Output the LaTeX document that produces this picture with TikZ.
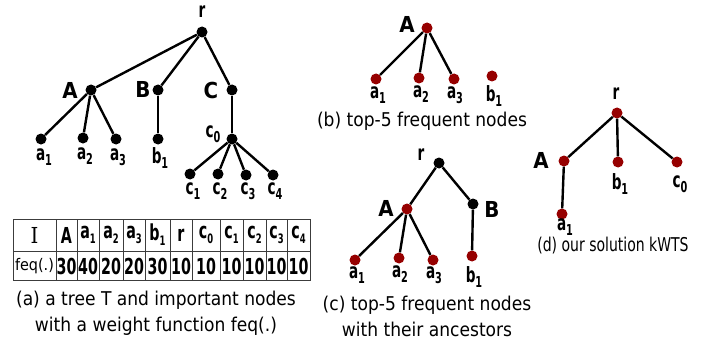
\documentclass[tikz,border=0pt]{standalone}
\usepackage{fontspec}
\usepackage{graphicx}
\setmainfont{DejaVu Sans Condensed}
\newfontfamily\serffont{DejaVu Serif Condensed}
\usepackage{tikz}
\definecolor{darkred}{RGB}{150,0,0}
\definecolor{gridgray}{RGB}{60,60,60}
\newcommand{\nrw}[1]{\scalebox{0.72}[1]{#1}}
\newcommand{\lab}[2]{\nrw{#1\raisebox{-0.4ex}{\fontsize{15}{15}\selectfont #2}}}
\newcommand{\tlab}[2]{#1\raisebox{-0.4ex}{\fontsize{13}{13}\selectfont #2}}

\begin{document}
\begin{tikzpicture}
[x=1pt, y=-1pt,
 dot/.style={circle, minimum size=11pt, inner sep=0pt, fill=black},
 rdot/.style={dot, fill=darkred},
 edge/.style={line width=2.4pt, color=black},
 lbl/.style={inner sep=0pt, font=\bfseries\fontsize{21}{21}\selectfont},
 biglbl/.style={inner sep=0pt, font=\bfseries\fontsize{22}{22}\selectfont},
 cell/.style={inner sep=0pt, font=\bfseries\fontsize{22}{22}\selectfont},
 caption/.style={inner sep=0pt, align=center, font=\fontsize{19}{26}\selectfont}]
\useasboundingbox (0,0) rectangle (710,345);

% (a) tree T
\node (ar) [dot] at (202, 32) {};
\node (aA) [dot] at (91, 90) {};
\node (aB) [dot] at (158, 90) {};
\node (aC) [dot] at (232, 90) {};
\node (aa1) [dot] at (41, 139) {};
\node (aa2) [dot] at (83, 138) {};
\node (aa3) [dot] at (116, 139) {};
\node (ab1) [dot] at (158, 139) {};
\node (ac0) [dot] at (232, 139) {};
\node (ac1) [dot] at (190, 174) {};
\node (ac2) [dot] at (218, 174) {};
\node (ac3) [dot] at (246, 175) {};
\node (ac4) [dot] at (273, 175) {};
\draw [edge] (ar) -- (aA);
\draw [edge] (ar) -- (aB);
\draw [edge] (ar) -- (aC);
\draw [edge] (aA) -- (aa1);
\draw [edge] (aA) -- (aa2);
\draw [edge] (aA) -- (aa3);
\draw [edge] (aB) -- (ab1);
\draw [edge] (aC) -- (ac0);
\draw [edge] (ac0) -- (ac1);
\draw [edge] (ac0) -- (ac2);
\draw [edge] (ac0) -- (ac3);
\draw [edge] (ac0) -- (ac4);
\node (arl) [lbl] at (202, 12) {\nrw{r}};
\node (aAl) [biglbl] at (70, 90) {A};
\node (aBl) [biglbl] at (143, 89) {B};
\node (aCl) [biglbl] at (211, 90) {C};
\node (aa1l) [lbl] at (44, 157) {\lab{a}{1}};
\node (aa2l) [lbl] at (85, 156) {\lab{a}{2}};
\node (aa3l) [lbl] at (118, 157) {\lab{a}{3}};
\node (ab1l) [lbl] at (160, 158) {\lab{b}{1}};
\node (ac0l) [lbl] at (213, 134) {\lab{c}{0}};
\node (ac1l) [lbl] at (193, 191) {\lab{c}{1}};
\node (ac2l) [lbl] at (220, 191) {\lab{c}{2}};
\node (ac3l) [lbl] at (248, 191) {\lab{c}{3}};
\node (ac4l) [lbl] at (275, 191) {\lab{c}{4}};

% table of weights
\draw [line width=1pt, color=gridgray] (13, 219) rectangle (310, 280);
\draw [line width=1pt, color=gridgray] (13, 251) -- (310, 251);
\foreach \x in {56, 77, 99, 123, 145, 170, 192, 220, 243, 266, 287}
  \draw [line width=1pt, color=gridgray] (\x, 219) -- (\x, 280);
\node (tI) [inner sep=0pt, font=\serffont\fontsize{22}{22}\selectfont] at (34.5, 235) {I};
\node (tfeq) [inner sep=0pt, font=\fontsize{16}{16}\selectfont] at (34.5, 266) {feq(.)};
\foreach \x/\h/\v [count=\i] in {66.5/A/30, 88/\tlab{a}{1}/40, 111/\tlab{a}{2}/20, 134/\tlab{a}{3}/20,
    157.5/\tlab{b}{1}/30, 181/r/10, 206/\tlab{c}{0}/10, 231.5/\tlab{c}{1}/10,
    254.5/\tlab{c}{2}/10, 276.5/\tlab{c}{3}/10, 298.5/\tlab{c}{4}/10}
{
  \node (th\i) [cell] at (\x, 235) {\nrw{\h}};
  \node (tv\i) [cell] at (\x, 266) {\nrw{\v}};
}
\node (capa) [caption] at (156, 313) {(a) a tree T and important nodes\\with a weight function feq(.)};

% (b) top-5 frequent nodes
\node (bA) [rdot] at (427, 28) {};
\node (ba1) [rdot] at (376, 79) {};
\node (ba2) [rdot] at (419, 78) {};
\node (ba3) [rdot] at (454, 79) {};
\node (bb1) [rdot] at (492, 76) {};
\draw [edge] (bA) -- (ba1);
\draw [edge] (bA) -- (ba2);
\draw [edge] (bA) -- (ba3);
\node (bAl) [biglbl] at (407, 24) {A};
\node (ba1l) [lbl] at (378, 95) {\lab{a}{1}};
\node (ba2l) [lbl] at (421, 94) {\lab{a}{2}};
\node (ba3l) [lbl] at (455, 95) {\lab{a}{3}};
\node (bb1l) [lbl] at (494, 96) {\lab{b}{1}};
\node (capb) [caption] at (422, 121) {(b) top-5 frequent nodes};

% (c) top-5 frequent nodes with their ancestors
\node (cr) [dot] at (439, 163) {};
\node (cA) [rdot] at (407, 209) {};
\node (cB) [dot] at (473, 204) {};
\node (ca1) [rdot] at (355, 260) {};
\node (ca2) [rdot] at (399, 258) {};
\node (ca3) [rdot] at (433, 260) {};
\node (cb1) [rdot] at (472, 256) {};
\draw [edge] (cr) -- (cA);
\draw [edge] (cr) -- (cB);
\draw [edge] (cA) -- (ca1);
\draw [edge] (cA) -- (ca2);
\draw [edge] (cA) -- (ca3);
\draw [edge] (cB) -- (cb1);
\node (crl) [lbl] at (421, 155) {\nrw{r}};
\node (cAl) [biglbl] at (386, 208) {A};
\node (cBl) [biglbl] at (492, 209) {B};
\node (ca1l) [lbl] at (357, 275) {\lab{a}{1}};
\node (ca2l) [lbl] at (400, 274) {\lab{a}{2}};
\node (ca3l) [lbl] at (434, 275) {\lab{a}{3}};
\node (cb1l) [lbl] at (474, 277) {\lab{b}{1}};
\node (capc) [caption] at (427, 316) {(c) top-5 frequent nodes\\with their ancestors};

% (d) our solution
\node (dr) [rdot] at (617, 113) {};
\node (dA) [rdot] at (564, 161) {};
\node (db1) [rdot] at (618, 162) {};
\node (dc0) [rdot] at (677, 162) {};
\node (da1) [rdot] at (562, 214) {};
\draw [edge] (dr) -- (dA);
\draw [edge] (dr) -- (db1);
\draw [edge] (dr) -- (dc0);
\draw [edge] (dA) -- (da1);
\node (drl) [lbl] at (616, 94) {\nrw{r}};
\node (dAl) [biglbl] at (541, 160) {A};
\node (db1l) [lbl] at (620, 184) {\lab{b}{1}};
\node (dc0l) [lbl] at (680, 184) {\lab{c}{0}};
\node (da1l) [lbl] at (565, 227) {\lab{a}{1}};
\node (capd) [caption] at (613, 246) {\scalebox{0.82}[1]{(d) our solution kWTS}};
\end{tikzpicture}
\end{document}
